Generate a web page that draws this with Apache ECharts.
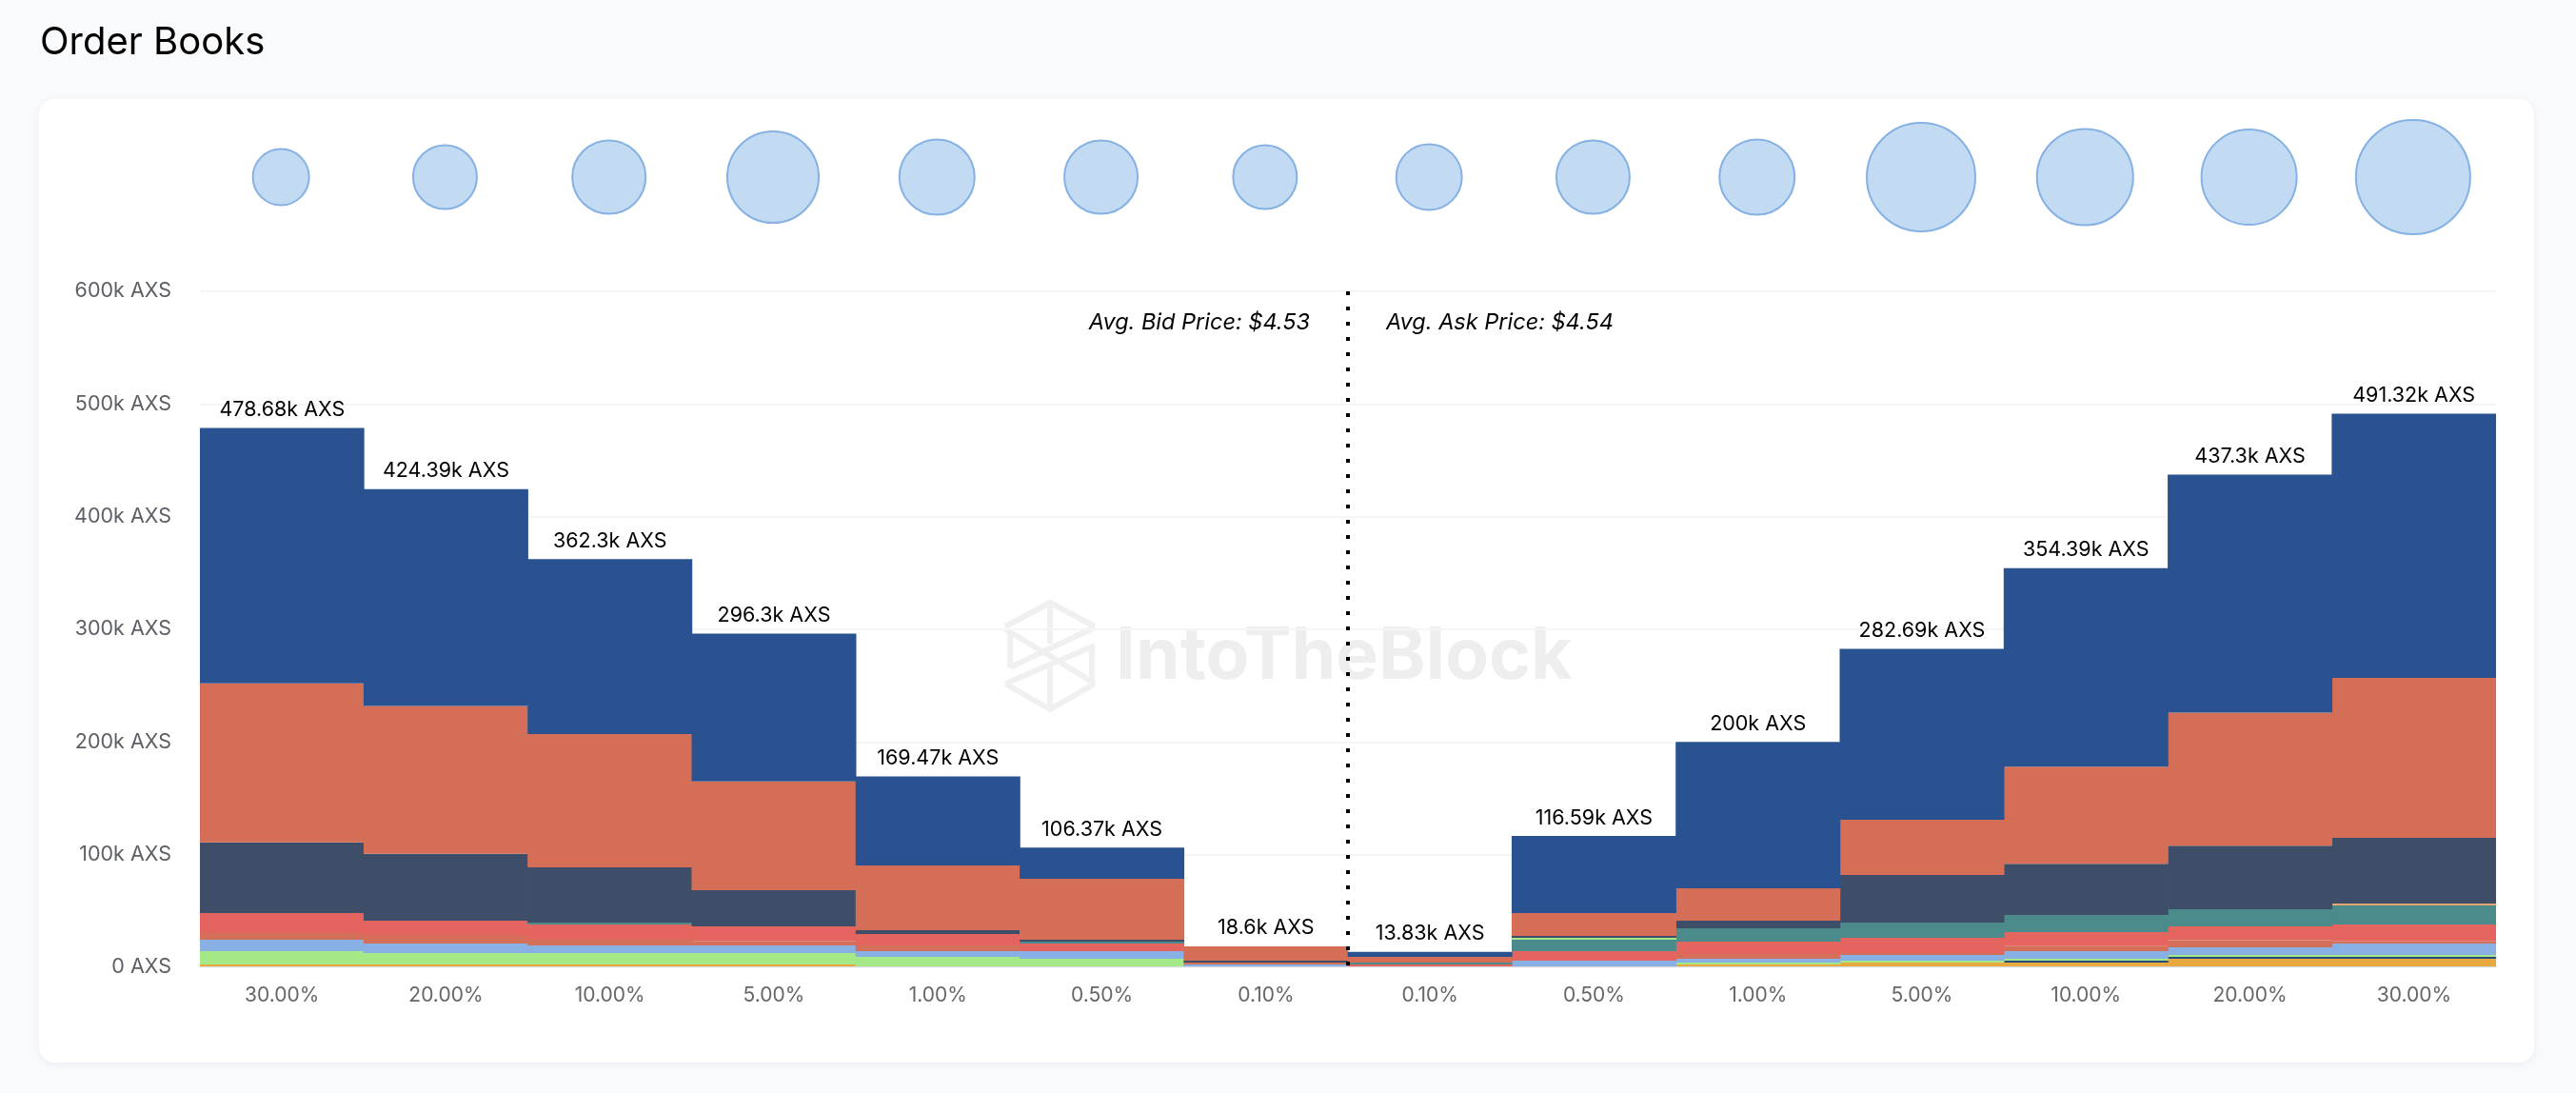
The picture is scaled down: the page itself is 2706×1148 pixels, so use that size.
<!DOCTYPE html>
<html>
<head>
<meta charset="utf-8">
<title>Order Books</title>
<script src="https://cdn.jsdelivr.net/npm/echarts@6/dist/echarts.min.js"></script>
<style>
  html, body { margin: 0; padding: 0; background: #f9fafc; }
  #main { width: 2706px; height: 1148px; }
</style>
</head>
<body>
<div id="main"></div>
<script>
const FONT = 'Inter';
const labels = ['30.00%','20.00%','10.00%','5.00%','1.00%','0.50%','0.10%','0.10%','0.50%','1.00%','5.00%','10.00%','20.00%','30.00%'];
const totals = [478.68,424.39,362.3,296.3,169.47,106.37,18.6,13.83,116.59,200,282.69,354.39,437.3,491.32];
const bubbles = [59,67,77,96,79,77,67,69,77,79,114,101,100,120];

/* top of each band in k AXS, bars left to right, read bottom band first */
const bands = [
  { name:'a', color:'#d5d9de', tops:[0.8,0.8,0.8,0.8,0.8,0.8,0.8,0.8,0.8,0.8,0.8,0.8,0.8,0.8] },
  { name:'b', color:'#e8a93f', tops:[2.5,2.5,2.5,2.5,0.8,0.8,0.8,0.8,0.8,2.5,4.2,4.2,7.6,7.6] },
  { name:'c', color:'#254a7d', tops:[2.5,2.5,2.5,2.5,0.8,0.8,0.8,0.8,0.8,2.5,4.2,5.9,9.3,9.3] },
  { name:'d', color:'#a5e887', tops:[14.4,12.7,12.7,12.7,9.3,7.6,0.8,0.8,0.8,4.2,5.9,7.6,11,11] },
  { name:'e', color:'#88b0e4', tops:[24.5,21.1,19.4,19.4,14.4,14.4,2.5,0.8,5.9,7.6,11,14.4,17.8,21.1] },
  { name:'f', color:'#d4705a', tops:[30.4,27.9,24.5,23.4,19.4,14.4,4.2,0.8,5.9,11.8,12.7,18.9,24,23.4] },
  { name:'g', color:'#e4655f', tops:[48.2,41.4,38,36.4,29.6,21.1,4.2,2.5,14.4,22.8,26.2,31.3,36.4,38] },
  { name:'h', color:'#4b8b8b', tops:[48.2,41.4,39.7,36.4,29.6,22.8,4.2,4.2,24.5,34.7,39.7,46.5,51.6,55] },
  { name:'i', color:'#a5e887', tops:[48.2,41.4,39.7,36.4,29.6,22.8,4.2,4.2,26.2,34.7,39.7,46.5,51.6,55] },
  { name:'j', color:'#e0a870', tops:[48.2,41.4,39.7,36.4,29.6,22.8,4.2,4.2,26.2,34.7,39.7,46.5,51.6,56.6] },
  { name:'k', color:'#3e4e68', tops:[111,100.7,88.8,68.5,33,24.5,5.9,4.2,27.9,41.4,82,92,108,115] },
  { name:'l', color:'#d56e56', tops:[252,232,207,165,90.5,78.6,18.6,9.3,48.2,70.2,131,178,226,257] },
  { name:'m', color:'#2a5290', tops:totals }
];

const series = bands.map((b, i) => ({
  name: b.name,
  type: 'bar',
  stack: 'book',
  barWidth: 173,
  silent: true,
  itemStyle: { color: b.color },
  data: b.tops.map((v, j) => +(v - (i ? bands[i - 1].tops[j] : 0)).toFixed(2))
}));
/* totals above each bar */
series[series.length - 1].label = {
  show: true,
  position: 'top',
  distance: 8,
  color: '#000',
  fontFamily: FONT,
  fontSize: 21.5,
  formatter: p => totals[p.dataIndex] + 'k AXS'
};

/* bubbles */
series.push({
  type: 'scatter',
  xAxisIndex: 2,
  yAxisIndex: 1,
  silent: true,
  data: bubbles.map((d, i) => [i, 1, d]),
  symbolSize: v => v[2],
  itemStyle: { color: '#c3daf3', borderColor: '#85b1e3', borderWidth: 2, opacity: 1 }
});

/* middle line between bid and ask */
series.push({
  type: 'line',
  xAxisIndex: 1,
  yAxisIndex: 0,
  silent: true,
  symbol: 'none',
  z: 10,
  lineStyle: { color: '#000', width: 4, type: [4, 12] },
  data: [[7, 600], [7, 0]]
});
series.push({
  type: 'scatter',
  xAxisIndex: 1,
  yAxisIndex: 0,
  silent: true,
  symbolSize: 0,
  z: 10,
  itemStyle: { opacity: 1 },
  data: [
    { value: [7, 572], label: { position: 'left', distance: 40, formatter: 'Avg. Bid Price: $4.53' } },
    { value: [7, 572], label: { position: 'right', distance: 40, formatter: 'Avg. Ask Price: $4.54' } }
  ],
  label: { show: true, color: '#000', fontFamily: FONT, fontSize: 23.5, fontStyle: 'italic' }
});

/* watermark logo, drawn on a 94 x 112 box */
const logoLines = [
  [[0,25],[47,0],[94,25]],
  [[47,0],[47,43]],
  [[5,30],[5,68]],
  [[0,28],[47,56],[94,85]],
  [[94,26],[5,68]],
  [[94,45],[0,85]],
  [[91,45],[91,85]],
  [[0,85],[47,112],[94,85]],
  [[47,68],[47,112]]
];

const option = {
  animation: false,
  backgroundColor: '#f9fafc',
  textStyle: { fontFamily: FONT },
  title: {
    text: 'Order Books',
    left: 37,
    top: 20,
    textStyle: { fontFamily: FONT, fontSize: 40, fontWeight: 400, color: '#000' }
  },
  graphic: [
    {
      type: 'rect',
      z: -10,
      silent: true,
      shape: { x: 41, y: 104, width: 2621, height: 1012, r: 16 },
      style: { fill: '#fff', shadowBlur: 10, shadowColor: 'rgba(30,40,70,0.06)', shadowOffsetY: 2 }
    },
    {
      type: 'group',
      left: 1053,
      top: 630,
      z: -5,
      silent: true,
      children: logoLines.map(points => ({
        type: 'polyline',
        shape: { points },
        style: { fill: null, stroke: '#f0f0f0', lineWidth: 6 }
      }))
    },
    {
      type: 'text',
      left: 1172,
      top: 653,
      z: -5,
      silent: true,
      style: { text: 'IntoTheBlock', fill: '#eeeeee', fontFamily: FONT, fontWeight: 700, fontSize: 75 }
    }
  ],
  grid: [
    { left: 210, right: 84, top: 306, bottom: 132 },
    { left: 209, right: 85, top: 121, height: 130 }
  ],
  xAxis: [
    {
      type: 'category',
      gridIndex: 0,
      data: labels,
      axisLine: { show: false },
      axisTick: { show: false },
      axisLabel: { color: '#666', fontFamily: FONT, fontSize: 21, margin: 19, interval: 0 }
    },
    { type: 'value', gridIndex: 0, min: 0, max: 14, show: false },
    {
      type: 'category',
      gridIndex: 1,
      show: false,
      data: labels.map((l, i) => i)
    }
  ],
  yAxis: [
    {
      type: 'value',
      gridIndex: 0,
      min: 0,
      max: 600,
      interval: 100,
      axisLine: { show: false },
      axisTick: { show: false },
      splitLine: { lineStyle: { color: '#f4f5f6', width: 2 } },
      axisLabel: {
        color: '#5c5f66',
        fontFamily: FONT,
        fontSize: 21.5,
        margin: 30,
        padding: [14, 0, 0, 0],
        formatter: v => v + (v ? 'k' : '') + ' AXS'
      }
    },
    { type: 'value', gridIndex: 1, min: 0, max: 2, show: false }
  ],
  series
};

const chart = echarts.init(document.getElementById('main'));
chart.setOption(option);
window.addEventListener('resize', () => chart.resize());
</script>
</body>
</html>
